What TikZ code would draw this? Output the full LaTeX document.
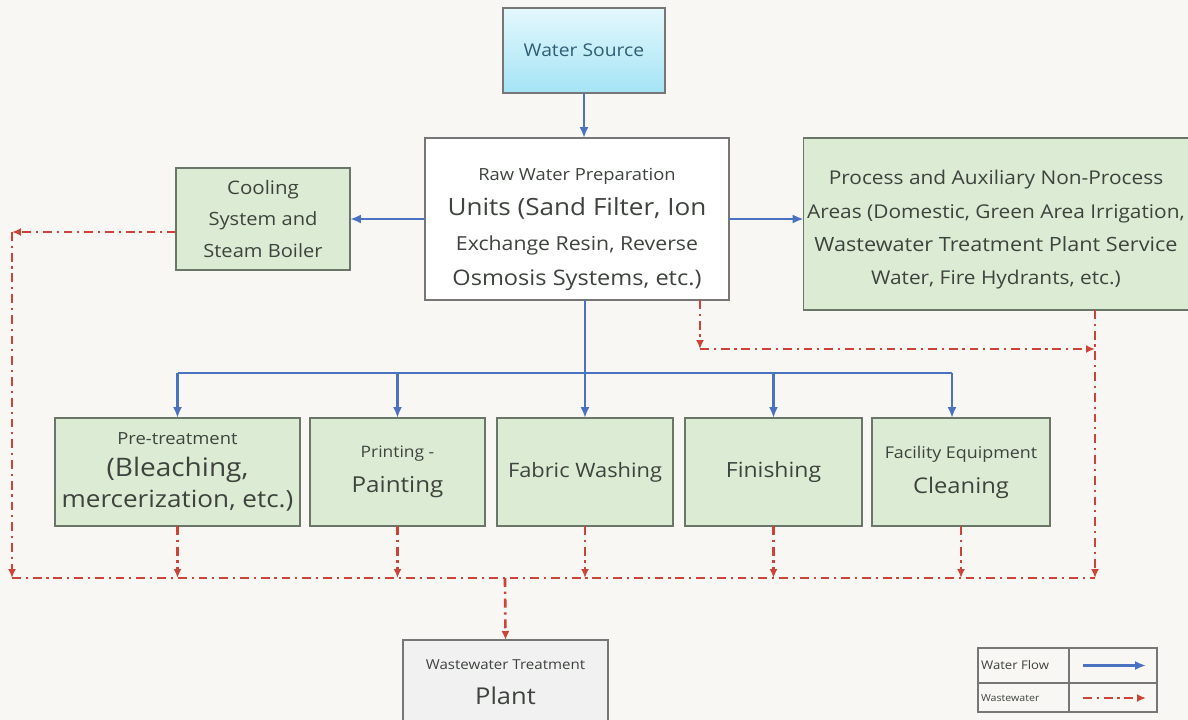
\documentclass[tikz,border=0pt]{standalone}
\usepackage{fontspec}
\setmainfont{Open Sans}[FakeStretch=1.1]
\usetikzlibrary{arrows.meta,calc,positioning}
\definecolor{bgpage}{HTML}{F8F7F3}
\definecolor{boxline}{HTML}{767676}
\definecolor{greenfill}{HTML}{DCECD4}
\definecolor{greenline}{HTML}{6A7668}
\definecolor{srctop}{HTML}{E4F8FD}
\definecolor{srcbot}{HTML}{A4E4F5}
\definecolor{srctext}{HTML}{2F5F73}
\definecolor{plantfill}{HTML}{F1F1F1}
\definecolor{txt}{HTML}{3E433E}
\definecolor{wblue}{HTML}{4A72C0}
\definecolor{wred}{HTML}{CC4338}
\newcommand{\fsz}[2]{\fontsize{#1}{#2}\selectfont}

\begin{document}
\begin{tikzpicture}[x=0.02cm,y=-0.02cm,
      box/.style={draw=boxline,line width=0.8pt,inner sep=2pt,outer sep=0pt,align=center,text=txt},
      grn/.style={box,fill=greenfill,draw=greenline},
      flow/.style={draw=wblue,line width=1.3pt,-{Latex[length=2.2mm,width=1.8mm]}},
      flowline/.style={draw=wblue,line width=1.3pt},
      waste/.style={draw=wred,line width=1.5pt,dash pattern=on 5pt off 2.8pt on 1.2pt off 2.8pt,-{Latex[length=1.8mm,width=1.6mm]}},
      wasteline/.style={draw=wred,line width=1.5pt,dash pattern=on 5pt off 2.8pt on 1.2pt off 2.8pt},
      lgline/.style={draw=boxline,line width=0.8pt}
    ]
      \fill[bgpage] (0,0) rectangle (1188,720);
      \useasboundingbox (0,0) rectangle (1188,720);

      % top part
      \node[box,top color=srctop,bottom color=srcbot,minimum width=3.24cm,minimum height=1.7cm,text=srctext,font=\fsz{10}{12}] (src) at (584,50.5) {Water Source};
      \node[box,fill=white,minimum width=6.08cm,minimum height=3.24cm,font=\fsz{10}{20}] (raw) at (577,219)
        {{\fsz{9.5}{20}\rule{0pt}{19pt}Raw Water Preparation}\\{\fsz{13.5}{20}Units (Sand Filter, Ion}\\{\fsz{11}{20}Exchange Resin, Reverse}\\{\fsz{12.2}{20}Osmosis Systems, etc.)}};
      \node[grn,minimum width=3.48cm,minimum height=2.04cm,font=\fsz{10.4}{18}] (cool) at (263,219)
        {{\fsz{10.6}{18}Cooling}\\System and\\Steam Boiler};
      \node[grn,minimum width=7.64cm,minimum height=3.44cm,font=\fsz{10.8}{19}] (proc) at (996,224)
        {\rule{0pt}{15pt}Process and Auxiliary Non-Process\\Areas (Domestic, Green Area Irrigation,\\{\fsz{11.2}{19}Wastewater Treatment Plant Service}\\Water, Fire Hydrants, etc.)};

      % process units
      \node[grn,minimum width=4.9cm,minimum height=2.16cm,font=\fsz{13.5}{18}] (pre) at (177.5,472)
        {{\fsz{9.5}{18}Pre-treatment}\\{\fsz{14.5}{18}(Bleaching,}\\mercerization, etc.)};
      \node[grn,minimum width=3.5cm,minimum height=2.16cm,font=\fsz{12.5}{20}] (print) at (397.5,472)
        {{\fsz{9}{20}Printing -}\\Painting};
      \node[grn,minimum width=3.52cm,minimum height=2.16cm,font=\fsz{11.3}{14}] (wash) at (585,472) {Fabric Washing};
      \node[grn,minimum width=3.54cm,minimum height=2.16cm,font=\fsz{11.9}{14}] (fin) at (773.5,472) {Finishing};
      \node[grn,minimum width=3.56cm,minimum height=2.16cm,font=\fsz{12.3}{20}] (fac) at (961,472)
        {{\fsz{9.25}{20}Facility Equipment}\\Cleaning};

      \node[box,fill=plantfill,minimum width=4.1cm,minimum height=1.7cm,anchor=north,font=\fsz{13.2}{20}] (wwtp) at (505.5,640)
        {{\fsz{7.8}{20}Wastewater Treatment}\\Plant};

      % water flow
      \draw[flow] (src.south) -- (src.south |- raw.north);
      \draw[flow] (raw.west |- cool) -- (cool.east);
      \draw[flow] (raw.east) -- (raw.east -| proc.west);
      \coordinate (bus) at (585,373);
      \draw[flowline] (pre.north |- bus) -- ([xshift=-0.18cm]fac.north |- bus);
      \draw[flow] (raw.south -| wash.north) -- (wash.north);
      \draw[flow] (pre.north |- bus) -- (pre.north);
      \draw[flow] (print.north |- bus) -- (print.north);
      \draw[flow] (fin.north |- bus) -- (fin.north);
      \draw[flow] ([xshift=-0.18cm]fac.north |- bus) -- ([xshift=-0.18cm]fac.north);

      % wastewater
      \coordinate (wb) at (505,578);
      \coordinate (cl) at (12,232);
      \coordinate (wr) at (1095,578);
      \coordinate (rk) at (700,349);
      \draw[waste] (cool.west |- cl) -- (cl);
      \draw[waste] (cl) -- (cl |- wb);
      \draw[wasteline] (cl |- wb) -- (wr);
      \draw[waste] (pre.south) -- (pre.south |- wb);
      \draw[waste] (print.south) -- (print.south |- wb);
      \draw[waste] (wash.south) -- (wash.south |- wb);
      \draw[waste] (fin.south) -- (fin.south |- wb);
      \draw[waste] (fac.south) -- (fac.south |- wb);
      \draw[waste] (raw.south -| rk) -- (rk);
      \draw[waste] (rk) -- (rk -| wr);
      \draw[waste] (proc.south -| wr) -- (wr);
      \draw[waste] (wb) -- (wwtp.north);

      % legend
      \draw[lgline] (978,648) rectangle (1157,712);
      \draw[lgline] (978,683) -- (1157,683);
      \draw[lgline] (1069,648) -- (1069,712);
      \node[anchor=west,inner sep=1pt,text=txt,font=\fsz{6.8}{9}] (lgflow) at (979,665.5) {Water Flow};
      \node[anchor=west,inner sep=1pt,text=txt,font=\fsz{5.5}{7}] (lgwaste) at (979,698) {Wastewater};
      \coordinate (lfa) at (1083,665.5);
      \coordinate (lfb) at (1146,665.5);
      \coordinate (lwa) at (1083,698);
      \coordinate (lwb) at (1146,698);
      \draw[flow] (lfa) -- (lfb);
      \draw[waste] (lwa) -- (lwb);
    \end{tikzpicture}
\end{document}
